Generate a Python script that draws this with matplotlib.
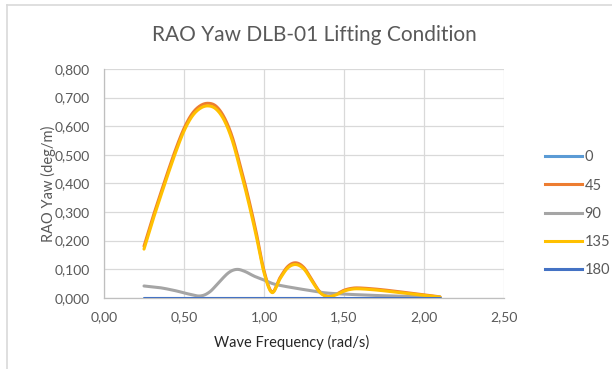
import numpy as np
import matplotlib
matplotlib.use("Agg")
import matplotlib.pyplot as plt
from matplotlib.lines import Line2D

# ---- data ----
freq_main = [0.25, 0.30, 0.35, 0.40, 0.45, 0.50, 0.55, 0.60, 0.65, 0.70, 0.75, 0.80,
             0.85, 0.90, 0.95, 1.00, 1.05, 1.10, 1.15, 1.20, 1.25, 1.30, 1.35, 1.40,
             1.45, 1.50, 1.55, 1.60, 1.70, 1.80, 1.90, 2.00, 2.10]
rao_45 = [0.180, 0.272, 0.358, 0.442, 0.522, 0.592, 0.643, 0.671, 0.680, 0.670, 0.632, 0.565,
          0.465, 0.355, 0.232, 0.095, 0.020, 0.070, 0.110, 0.122, 0.105, 0.062, 0.020, 0.005,
          0.012, 0.026, 0.033, 0.034, 0.030, 0.024, 0.017, 0.010, 0.003]
rao_135 = [0.170, 0.262, 0.348, 0.432, 0.512, 0.583, 0.634, 0.662, 0.671, 0.660, 0.622, 0.553,
           0.452, 0.342, 0.220, 0.088, 0.018, 0.066, 0.105, 0.116, 0.100, 0.058, 0.018, 0.004,
           0.010, 0.023, 0.030, 0.031, 0.027, 0.021, 0.015, 0.008, 0.002]
freq_90 = [0.25, 0.35, 0.45, 0.52, 0.60, 0.66, 0.72, 0.78, 0.83, 0.88, 0.94, 1.00, 1.05,
           1.10, 1.20, 1.30, 1.40, 1.60, 1.80, 2.10]
rao_90 = [0.041, 0.035, 0.024, 0.014, 0.006, 0.020, 0.055, 0.088, 0.099, 0.092, 0.075, 0.062,
          0.050, 0.043, 0.033, 0.024, 0.016, 0.010, 0.006, 0.002]
freq_zero = [0.25, 2.10]
rao_0 = [0.0, 0.0]
rao_180 = [0.0, 0.0]

series_names = ["0", "45", "90", "135", "180"]
colors = ["#5B9BD5", "#ED7D31", "#A5A5A5", "#FFC000", "#4472C4"]

x_ticks = [0.0, 0.5, 1.0, 1.5, 2.0, 2.5]
y_ticks = [0.0, 0.1, 0.2, 0.3, 0.4, 0.5, 0.6, 0.7, 0.8]


def smooth(x, y, n=20):
    """Catmull-Rom style smoothing through the data points (like Excel's smoothed line)."""
    x = np.asarray(x, float)
    y = np.asarray(y, float)
    if len(x) < 3:
        return x, y
    px = np.concatenate([[2 * x[0] - x[1]], x, [2 * x[-1] - x[-2]]])
    py = np.concatenate([[2 * y[0] - y[1]], y, [2 * y[-1] - y[-2]]])
    xs, ys = [], []
    for i in range(1, len(px) - 2):
        p0 = np.array([px[i], py[i]])
        p3 = np.array([px[i + 1], py[i + 1]])
        c1 = p0 + (np.array([px[i + 1], py[i + 1]]) - np.array([px[i - 1], py[i - 1]])) / 6
        c2 = p3 - (np.array([px[i + 2], py[i + 2]]) - np.array([px[i], py[i]])) / 6
        t = np.linspace(0, 1, n, endpoint=(i == len(px) - 3))
        b = ((1 - t) ** 3)[:, None] * p0 + (3 * (1 - t) ** 2 * t)[:, None] * c1 \
            + (3 * (1 - t) * t ** 2)[:, None] * c2 + (t ** 3)[:, None] * p3
        xs.append(b[:, 0])
        ys.append(b[:, 1])
    return np.concatenate(xs), np.concatenate(ys)


plt.rcParams['font.family'] = ['Lato', 'DejaVu Sans']

fig = plt.figure(figsize=(6.12, 3.69), dpi=100)
W, H = 612, 369
ax = fig.add_axes([104 / W, 1 - 297.7 / H, (504 - 104) / W, (297.7 - 69) / H])

lw = 2.2
data = [(freq_zero, rao_0), (freq_main, rao_45), (freq_90, rao_90),
        (freq_main, rao_135), (freq_zero, rao_180)]
order = [2, 1, 3, 0, 4]
for i in order:
    xx, yy = smooth(*data[i])
    ax.plot(xx, yy, color=colors[i], lw=lw, solid_capstyle='round', zorder=3 + i * 0.1)

ax.set_xlim(0, 2.5)
ax.set_ylim(0, 0.8)
ax.set_xticks(x_ticks)
ax.set_yticks(y_ticks)
ax.set_xticklabels([f"{v:.2f}".replace('.', ',') for v in x_ticks])
ax.set_yticklabels([f"{v:.3f}".replace('.', ',') for v in y_ticks])
ax.tick_params(axis='y', length=0, labelsize=10, colors="#595959", pad=10)
ax.tick_params(axis='x', length=0, labelsize=10, colors="#595959", pad=10)
ax.grid(True, color="#D9D9D9", lw=0.9)
ax.set_axisbelow(True)
for s in ["top", "right"]:
    ax.spines[s].set_visible(False)
for s in ["left", "bottom"]:
    ax.spines[s].set_color("#BFBFBF")
    ax.spines[s].set_linewidth(0.9)

ax.set_xlabel("Wave Frequency (rad/s)", fontsize=10.5, color="#262626")
ax.set_ylabel("RAO Yaw (deg/m)", fontsize=10.5, color="#595959")
ax.xaxis.set_label_coords((292 - 104) / 400, (297.7 - 342) / 228.7)
ax.yaxis.set_label_coords((48 - 104) / 400, 0.5)
ax.yaxis.label.set_va("center")
ax.xaxis.label.set_va("center")

fig.text(314 / W, 1 - 35 / H, "RAO Yaw DLB-01 Lifting Condition", ha="center", va="center",
         fontsize=15, color="#595959")

handles = [Line2D([], [], color=c, lw=lw) for c in colors]
leg = fig.legend(handles, series_names, loc="upper left", bbox_to_anchor=(538 / W, 1 - 143 / H),
                 frameon=False, fontsize=10.5, handlelength=2.5, labelspacing=0.98,
                 handletextpad=0.2, borderpad=0)
for t in leg.get_texts():
    t.set_color("#595959")

# outer chart border
fig.add_artist(Line2D([7 / W, 7 / W], [0, 1 - 5 / H], color="#D9D9D9", lw=1.2))
fig.add_artist(Line2D([7 / W, 1], [1 - 5 / H, 1 - 5 / H], color="#D9D9D9", lw=1.2))

fig.savefig("out.png", dpi=100)
